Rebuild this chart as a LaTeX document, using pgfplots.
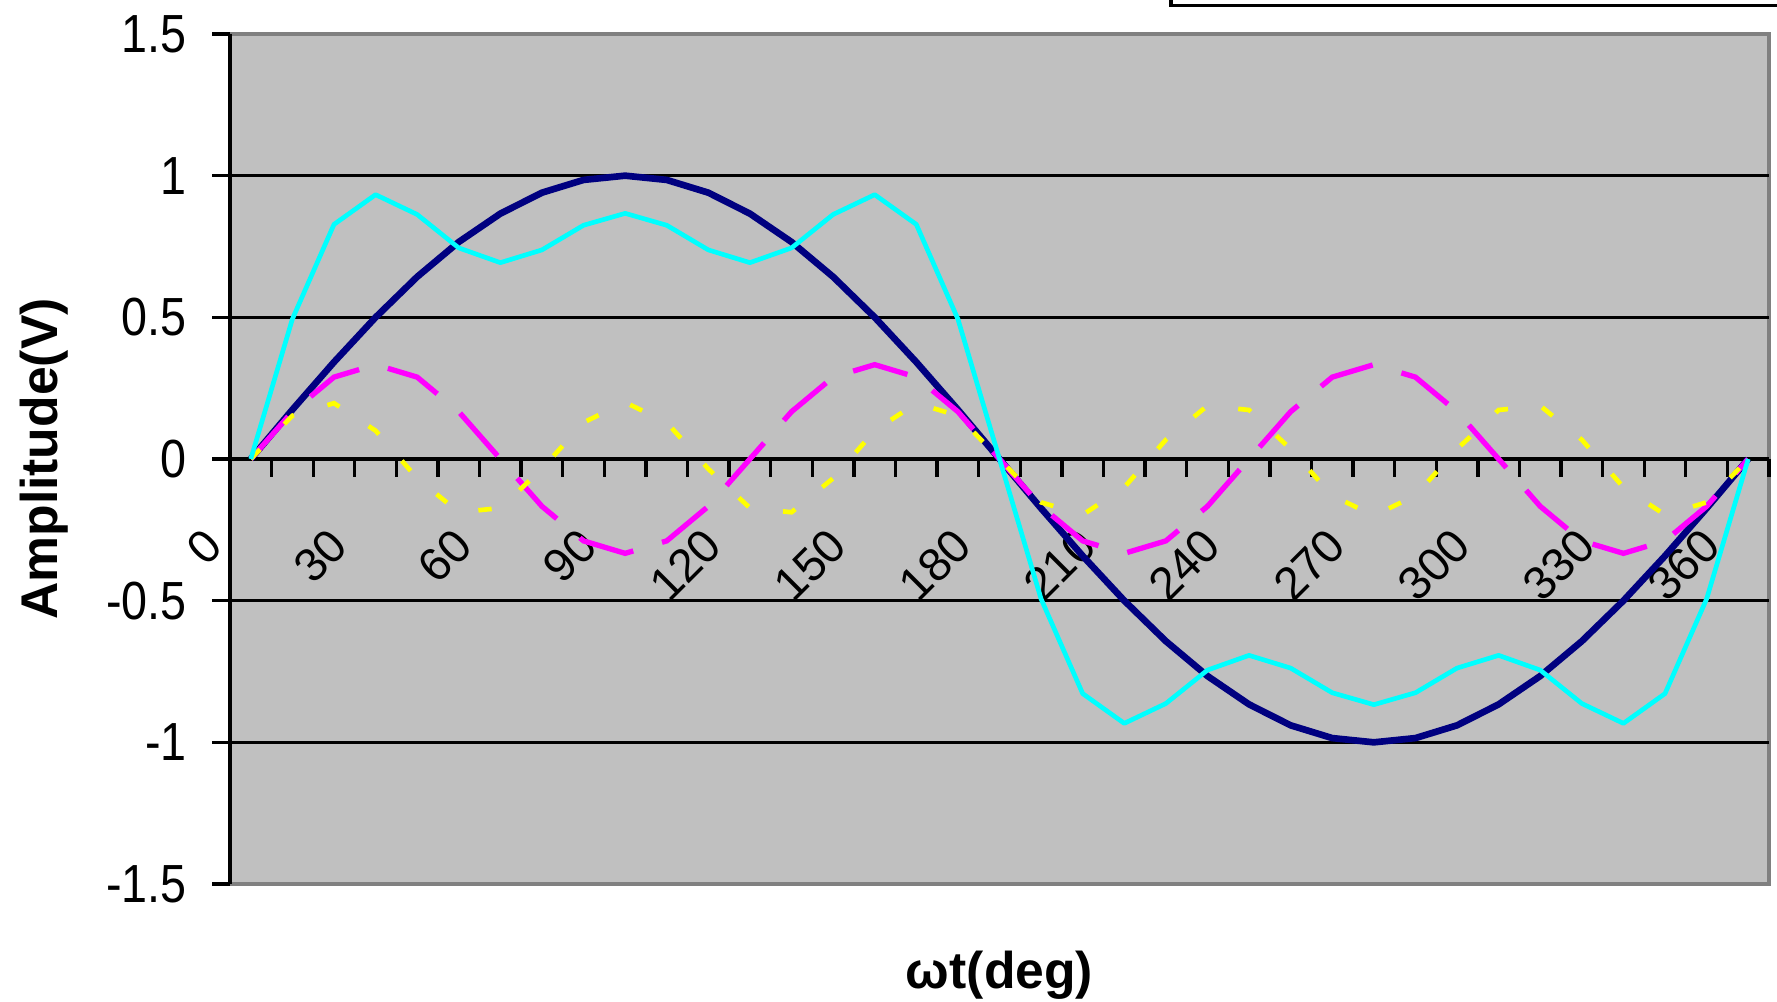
\documentclass[border=0pt]{standalone}
\usepackage{fontspec}
\setmainfont{Liberation Sans}
\usepackage{pgfplots}
\pgfplotsset{compat=1.18}
\definecolor{plotbg}{HTML}{C0C0C0}
\definecolor{framegray}{HTML}{808080}
\definecolor{xlnavy}{HTML}{000080}
\definecolor{xlmag}{HTML}{FF00FF}
\definecolor{xlyel}{HTML}{FFFF00}
\definecolor{xlcyan}{HTML}{00FFFF}
\begin{document}
\begin{tikzpicture}
\useasboundingbox (-69pt,-35.1pt) rectangle (464.1pt,265.2pt);
\begin{axis}[
  at={(0pt,0pt)}, anchor=south west,
  scale only axis, width=461.7pt, height=255pt,
  xmin=-5, xmax=365, ymin=-1.5, ymax=1.5,
  axis y line*=left, axis x line*=middle,
  axis line style={black, line width=1pt},
  axis background/.style={fill=plotbg, draw=framegray, line width=1pt},
  tick align=outside,
  major tick length=5.3pt,
  tick style={black, line width=1pt},
  ytick={-1.5,-1,-0.5,0,0.5,1,1.5},
  yticklabels={-1.5,-1,-0.5,0,0.5,1,1.5},
  extra y ticks={-1,-0.5,0.5,1}, extra y tick labels={},
  extra y tick style={ymajorgrids=true},
  major grid style={black, line width=1pt},
  xtick={-5,5,...,365}, xticklabels={},
  extra x ticks={0,30,...,360},
  extra x tick labels={0,30,60,90,120,150,180,210,240,270,300,330,360},
  extra x tick style={major tick length=0pt},
  xticklabel style={font=\fontsize{14}{14}\selectfont, inner sep=0pt, xshift=-11pt, yshift=-23.4pt, rotate=45, anchor=east},
  yticklabel style={font=\fontsize{14}{14}\selectfont, inner sep=0pt, anchor=east, xshift=-7.45pt, yscale=1.15},
  xlabel={ωt(deg)},
  xlabel style={at={([yshift=-27.3pt]axis description cs:0.5,0)}, anchor=center, font=\bfseries\fontsize{15.5}{15.5}\selectfont},
  ylabel={Amplitude(V)},
  ylabel style={at={([xshift=-55.8pt]axis description cs:0,0.5)}, anchor=center, font=\bfseries\fontsize{15.5}{15.5}\selectfont},
]
\addplot[xlnavy, line width=2pt, line join=round] coordinates {
(0,0) (10,0.174) (20,0.342) (30,0.5) (40,0.643) (50,0.766) (60,0.866) (70,0.940) (80,0.985) (90,1)
(100,0.985) (110,0.940) (120,0.866) (130,0.766) (140,0.643) (150,0.5) (160,0.342) (170,0.174) (180,0)
(190,-0.174) (200,-0.342) (210,-0.5) (220,-0.643) (230,-0.766) (240,-0.866) (250,-0.940) (260,-0.985) (270,-1)
(280,-0.985) (290,-0.940) (300,-0.866) (310,-0.766) (320,-0.643) (330,-0.5) (340,-0.342) (350,-0.174) (360,0)
};
\addplot[xlmag, line width=1.6pt, dash pattern=on 17pt off 9pt] coordinates {
(0,0) (10,0.167) (20,0.289) (30,0.333) (40,0.289) (50,0.167) (60,0) (70,-0.167) (80,-0.289) (90,-0.333)
(100,-0.289) (110,-0.167) (120,0) (130,0.167) (140,0.289) (150,0.333) (160,0.289) (170,0.167) (180,0)
(190,-0.167) (200,-0.289) (210,-0.333) (220,-0.289) (230,-0.167) (240,0) (250,0.167) (260,0.289) (270,0.333)
(280,0.289) (290,0.167) (300,0) (310,-0.167) (320,-0.289) (330,-0.333) (340,-0.289) (350,-0.167) (360,0)
};
\addplot[xlyel, line width=1.4pt, dash pattern=on 4pt off 10.5pt] coordinates {
(0,0) (10,0.153) (20,0.197) (30,0.1) (40,-0.068) (50,-0.188) (60,-0.173) (70,-0.035) (80,0.129) (90,0.2)
(100,0.129) (110,-0.035) (120,-0.173) (130,-0.188) (140,-0.068) (150,0.1) (160,0.197) (170,0.153) (180,0)
(190,-0.153) (200,-0.197) (210,-0.1) (220,0.068) (230,0.188) (240,0.173) (250,0.035) (260,-0.129) (270,-0.2)
(280,-0.129) (290,0.035) (300,0.173) (310,0.188) (320,0.068) (330,-0.1) (340,-0.197) (350,-0.153) (360,0)
};
\addplot[xlcyan, line width=1.4pt, line join=round] coordinates {
(0,0) (10,0.494) (20,0.828) (30,0.933) (40,0.863) (50,0.745) (60,0.693) (70,0.738) (80,0.825) (90,0.867)
(100,0.825) (110,0.738) (120,0.693) (130,0.745) (140,0.863) (150,0.933) (160,0.828) (170,0.494) (180,0)
(190,-0.494) (200,-0.828) (210,-0.933) (220,-0.863) (230,-0.745) (240,-0.693) (250,-0.738) (260,-0.825) (270,-0.867)
(280,-0.825) (290,-0.738) (300,-0.693) (310,-0.745) (320,-0.863) (330,-0.933) (340,-0.828) (350,-0.494) (360,0)
};
\end{axis}
\draw[black, line width=1pt] (282.3pt,268pt) -- (282.3pt,263.5pt) -- (470pt,263.5pt);
\end{tikzpicture}
\end{document}
